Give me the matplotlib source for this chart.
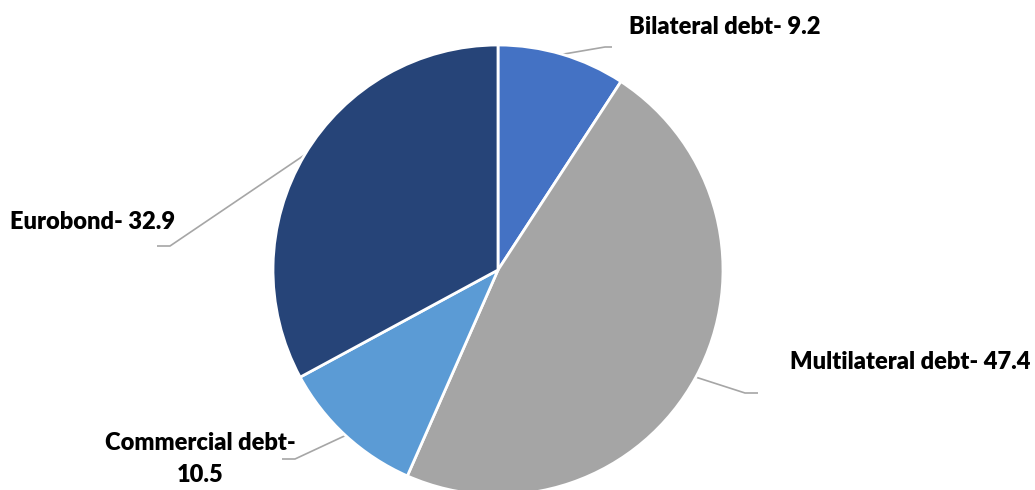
import numpy as np
import matplotlib
matplotlib.use("Agg")
import matplotlib.pyplot as plt

# Debt composition (% of total)
categories = ["Bilateral debt", "Multilateral debt", "Commercial debt", "Eurobond"]
values = [9.2, 47.4, 10.5, 32.9]
label_texts = ["Bilateral debt- 9.2", "Multilateral debt- 47.4", "Commercial debt-\n10.5", "Eurobond- 32.9"]
colors = ["#4472C4", "#A5A5A5", "#5B9BD5", "#264478"]

W, H = 1035, 490
fig = plt.figure(figsize=(W / 100, H / 100), dpi=100)
ax = fig.add_axes([0, 0, 1, 1])

cx, cy, r = 498, H - 270, 225
wedges, _ = ax.pie(values, colors=colors, startangle=90, counterclock=False,
                   center=(cx, cy), radius=r, frame=True,
                   wedgeprops=dict(edgecolor="white", linewidth=2.0))
ax.set_xlim(0, W)
ax.set_ylim(0, H)
ax.set_aspect("equal")
ax.axis("off")

# Leader line elbows, end points and label anchors (y measured upward)
elbows = [(605, H - 47), (745, H - 393), (295, H - 459), (170, H - 246)]
ends = [(612, H - 47), (758, H - 393), (282, H - 459), (157, H - 246)]
text_pos = [(629, H - 27, "left"), (790, H - 362, "left"), (200, H - 459, "center"), (10, H - 222, "left")]

for w, el, en, (tx, ty, ha), txt in zip(wedges, elbows, ends, text_pos, label_texts):
    ang = np.deg2rad((w.theta1 + w.theta2) / 2)
    sx, sy = cx + r * np.cos(ang), cy + r * np.sin(ang)
    ax.plot([sx, el[0], en[0]], [sy, el[1], en[1]], color="#A6A6A6", lw=1.2,
            solid_capstyle="butt", zorder=0.5)
    ax.text(tx, ty, txt, ha=ha, va="center", fontsize=17, fontweight="heavy",
            family="Lato", color="black", linespacing=1.5)

fig.savefig("out.png", dpi=100)
